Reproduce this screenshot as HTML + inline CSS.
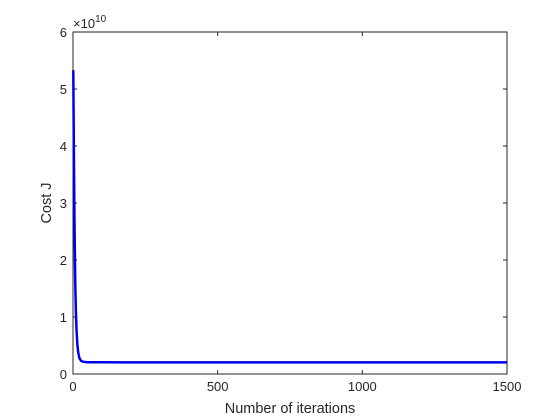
<!DOCTYPE html>
<html><head><style>
body{margin:0;background:#fff;}
svg{display:block;font-family:"Liberation Sans",sans-serif;}
</style></head><body>
<svg width="560" height="420" viewBox="0 0 560 420">
<rect width="560" height="420" fill="#fff"/>
<g id="plot"></g>
</svg>
<script>
const xTicks=[0,500,1000,1500];
const yTicks=[0,1,2,3,4,5,6];
const iterations=[1,2,3,4,5,6,7,8,10,12,15,18,22,28,35,50,100,500,1000,1500];
const costValues=[5.33,4.6,3.9,3.3,2.75,2.3,1.9,1.55,1.1,0.8,0.52,0.38,0.28,0.23,0.215,0.207,0.205,0.204,0.204,0.204];
const L=73,R=507,T=32,B=374;
const sx=v=>L+(v-0)/(1500-0)*(R-L);
const sy=v=>B-(v-0)/(6-0)*(B-T);
const g=document.getElementById('plot');
const NS='http://www.w3.org/2000/svg';
function mk(tag,attrs,parent){const e=document.createElementNS(NS,tag);for(const k in attrs)e.setAttribute(k,attrs[k]);(parent||g).appendChild(e);return e;}
const box=mk('rect',{x:L,y:T,width:R-L,height:B-T,fill:'#fff',stroke:'#262626','stroke-width':1});


xTicks.forEach(v=>{
  const x=sx(v);
  const t1=mk('line',{x1:x,x2:x,y1:B,y2:B-4,stroke:'#262626'});
  
  
  mk('line',{x1:x,x2:x,y1:T,y2:T+4,stroke:'#262626'});
  const tx=mk('text',{x:x,y:B+17,'text-anchor':'middle','font-size':13,fill:'#262626'});
  tx.textContent=v;
  
  
});
yTicks.forEach(v=>{
  const y=sy(v);
  const t1=mk('line',{x1:L,x2:L+4,y1:y,y2:y,stroke:'#262626'});
  
  
  mk('line',{x1:R,x2:R-4,y1:y,y2:y,stroke:'#262626'});
  const tx=mk('text',{x:L-6,y:y+5,'text-anchor':'end','font-size':13,fill:'#262626'});
  tx.textContent=v;
  
  
});
const ex=mk('text',{x:L,y:T-4,'font-size':13,fill:'#262626'});
ex.innerHTML='×10<tspan dy="-6" font-size="10">10</tspan>';


const d=iterations.map((v,i)=>(i?'L':'M')+sx(v).toFixed(2)+','+sy(costValues[i]).toFixed(2)).join('');
const line=mk('path',{d:d,fill:'none',stroke:'#0000ee','stroke-width':2.5,'stroke-linejoin':'round'});


const xl=mk('text',{x:(L+R)/2,y:413,'text-anchor':'middle','font-size':14.5,fill:'#262626'});
xl.textContent='Number of iterations';


const yl=mk('text',{x:0,y:0,'text-anchor':'middle','font-size':14.5,fill:'#262626',transform:'translate(51,'+((T+B)/2)+') rotate(-90)'});
yl.textContent='Cost J';


</script>
</body></html>
